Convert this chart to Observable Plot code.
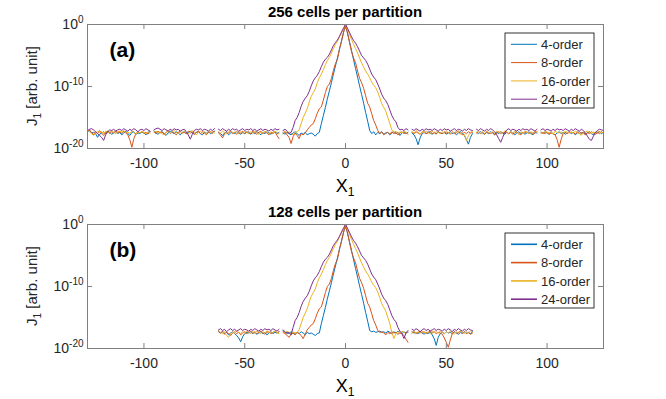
<!DOCTYPE html>
<html><head><meta charset="utf-8">
<script src="https://cdn.jsdelivr.net/npm/d3@7"></script>
<script src="https://cdn.jsdelivr.net/npm/@observablehq/plot@0.6"></script>
<style>
body{margin:0;background:#fff;width:666px;height:399px;overflow:hidden}
svg{display:block}
</style></head><body><div id="chart"></div>
<script>
// ---------- data (log10 of J1; null = gap) ----------
const seriesNames = ["4-order", "8-order", "16-order", "24-order"];
const seriesColors = ["#0072BD", "#D95319", "#EDB120", "#7E2F8E"];
const xTicks = [-100, -50, 0, 50, 100];
const yTickExponents = [0, -10, -20];
const titles = ["256 cells per partition", "128 cells per partition"];
const panelLabels = ["(a)", "(b)"];

const topStartX = -128; // x = -128 ... 128
const top4 = [
-17.3,-17.1,-17.5,-17.4,-17.6,-18.2,-17.7,-17.5,-17.3,-17.6,-17.2,-17.4,-17.7,-17.5,-17.3,-17.6,
-17.4,-17.8,-17.5,-17.2,-17.6,-17.9,-17.4,-17.3,-17.7,-17.5,-17.6,-17.3,-17.5,-17.8,-17.4,-17.3,
null,-17.2,-17.5,-17.7,-17.4,-17.3,-17.6,-17.9,-17.5,-17.2,-17.4,-17.6,-17.3,-17.5,-17.8,-17.4,
-17.3,-17.6,-17.4,-17.2,-17.5,-17.7,-17.4,-17.3,-17.6,-17.8,-17.4,-17.5,-17.3,-17.6,-17.4,-17.2,
null,-17.4,-17.6,-17.9,-17.5,-17.3,-17.8,-17.5,-17.4,-17.6,-17.3,-17.5,-17.7,-17.4,-17.6,-17.3,
-17.5,-17.7,-17.4,-17.6,-17.3,-17.5,-17.8,-17.4,-17.6,-17.3,-17.5,-17.7,-17.4,-17.2,-17.6,-17.4,
null,-17.5,-17.7,-17.4,-17.6,-17.8,-17.5,-17.3,-17.6,-17.9,-17.5,-17.7,-17.4,-17.8,-17.6,-17.5,
-17.7,-18.0,-17.6,-17.4,-16.0,-14.7,-13.4,-12.0,-10.7,-9.4,-8.0,-6.7,-5.4,-4.0,-2.7,-1.3,
0,-1.4,-2.8,-4.2,-5.7,-7.1,-8.5,-9.9,-11.3,-12.7,-14.2,-15.6,-17.1,-17.6,-17.3,-17.8,
-17.4,-17.6,-17.3,-17.7,-17.5,-17.4,-17.8,-17.5,-17.3,-17.6,-17.4,-17.9,-17.5,-17.3,-17.6,-17.4,
null,-17.5,-17.8,-18.4,-19.4,-18.3,-17.6,-17.4,-17.6,-17.3,-17.5,-17.7,-17.4,-17.6,-17.3,-17.5,
-17.6,-17.4,-17.7,-17.5,-17.3,-17.6,-17.4,-17.8,-17.5,-17.3,-17.6,-17.9,-18.6,-19.3,-18.2,-17.6,
null,-17.4,-17.6,-17.3,-17.5,-17.7,-17.4,-17.6,-17.3,-17.5,-17.8,-17.4,-17.6,-17.3,-17.5,-17.7,
-17.4,-17.6,-17.3,-17.5,-17.8,-17.5,-17.3,-17.6,-17.4,-17.7,-17.5,-17.3,-17.6,-17.8,-17.4,-17.5,
null,-17.4,-17.6,-17.3,-17.5,-17.7,-17.4,-17.6,-17.8,-17.5,-17.3,-17.6,-17.4,-17.7,-17.5,-17.3,
-17.6,-17.4,-17.8,-17.5,-17.3,-17.6,-17.4,-17.7,-17.5,-17.3,-17.6,-17.8,-17.4,-17.5,-17.3,-17.6,
-17.4];
const top8 = [
-17.2,-17.0,-17.4,-17.8,-17.3,-17.6,-17.1,-17.5,-17.9,-17.4,-17.2,-17.6,-17.3,-17.5,-17.1,-17.4,
-17.3,-17.6,-17.2,-17.5,-17.8,-18.6,-19.8,-18.4,-17.6,-17.3,-17.5,-17.2,-17.6,-17.4,-17.7,-17.3,
null,-17.3,-17.6,-17.2,-17.5,-17.3,-17.7,-17.4,-17.1,-17.6,-17.3,-17.5,-17.8,-17.4,-17.2,-17.5,
-17.4,-17.6,-17.2,-17.5,-17.3,-17.7,-17.4,-17.2,-17.6,-17.3,-17.5,-17.8,-17.4,-17.3,-17.6,-17.2,
null,-17.5,-17.8,-18.3,-17.6,-17.3,-17.5,-17.2,-17.6,-17.4,-17.7,-17.3,-17.5,-17.2,-17.6,-17.4,
-17.3,-17.6,-17.2,-17.5,-17.7,-17.4,-17.2,-17.6,-17.3,-17.5,-17.8,-17.4,-17.6,-17.3,-17.9,-18.4,
null,-17.6,-17.3,-17.8,-18.2,-19.2,-18.1,-17.5,-17.9,-18.4,-17.6,-17.8,-17.5,-17.0,-16.6,-16.2,
-16.0,-15.2,-14.3,-13.6,-13.3,-12.2,-11.0,-10.0,-9.6,-8.7,-7.4,-6.3,-5.6,-4.0,-2.7,-1.3,
0,-1.4,-2.9,-4.4,-5.4,-6.2,-7.5,-8.7,-9.4,-10.3,-11.5,-12.7,-13.3,-14.4,-15.5,-16.2,
-17.1,-17.6,-17.3,-17.8,-17.5,-17.4,-17.7,-17.3,-17.6,-17.4,-17.8,-17.5,-17.3,-17.6,-17.4,-17.7,
null,-17.4,-17.6,-17.3,-17.5,-17.7,-17.4,-17.3,-17.6,-17.5,-17.2,-17.6,-17.4,-17.7,-17.3,-17.5,
-17.6,-17.3,-17.5,-17.4,-17.7,-17.3,-17.6,-17.4,-17.2,-17.5,-17.8,-17.4,-17.6,-17.3,-17.5,-17.4,
null,-17.5,-17.3,-17.6,-17.4,-17.7,-17.3,-17.5,-17.6,-17.4,-17.8,-17.5,-17.3,-17.6,-17.4,-17.5,
-17.3,-17.6,-17.4,-17.7,-17.5,-17.3,-17.6,-17.8,-17.4,-17.5,-17.3,-17.6,-17.4,-17.7,-17.5,-17.3,
null,-17.5,-17.4,-17.6,-17.3,-17.7,-17.5,-17.6,-17.8,-18.6,-19.8,-18.5,-17.6,-17.4,-17.6,-17.3,
-17.5,-17.4,-17.7,-17.3,-17.6,-17.4,-17.5,-17.8,-17.4,-17.6,-17.3,-17.5,-17.7,-17.4,-17.6,-17.3,
-17.5];
const top16 = [
-17.0,-17.3,-17.6,-17.9,-17.5,-17.2,-17.4,-17.3,-17.6,-17.2,-17.5,-17.3,-17.1,-17.4,-17.6,-17.3,
-17.2,-17.4,-17.1,-17.5,-17.3,-17.6,-17.2,-17.4,-17.7,-17.3,-17.5,-17.2,-17.4,-17.6,-17.3,-17.5,
null,-17.4,-17.2,-17.5,-17.3,-17.6,-17.8,-17.4,-17.2,-17.5,-17.3,-17.1,-17.4,-17.6,-17.3,-17.5,
-17.2,-17.4,-17.6,-17.3,-17.1,-17.5,-17.8,-17.4,-17.2,-17.5,-17.3,-17.6,-17.2,-17.4,-17.3,-17.5,
null,-17.3,-17.5,-17.2,-17.4,-17.6,-17.3,-17.1,-17.5,-17.4,-17.2,-17.6,-17.3,-17.5,-17.2,-17.4,
-17.6,-17.3,-17.5,-17.2,-17.4,-17.7,-17.3,-17.5,-17.2,-17.4,-17.6,-17.3,-17.5,-17.2,-17.4,-17.6,
null,-17.4,-17.2,-17.6,-17.3,-17.5,-17.8,-17.4,-17.3,-17.0,-16.0,-15.0,-14.3,-13.6,-12.5,-11.6,
-11.0,-10.4,-9.4,-8.6,-8.0,-7.3,-6.5,-5.8,-5.3,-4.6,-3.9,-3.2,-2.7,-2.0,-1.4,-0.7,
0,-0.8,-1.6,-2.4,-3.2,-3.9,-4.6,-5.4,-6.2,-6.9,-7.5,-8.0,-8.6,-9.3,-9.8,-10.2,
-10.9,-11.8,-12.8,-13.4,-14.0,-15.0,-16.0,-17.0,-17.4,-17.2,-17.6,-17.3,-17.5,-17.2,-17.4,-17.6,
null,-17.3,-17.5,-17.1,-17.4,-17.7,-17.3,-17.5,-17.2,-17.4,-17.6,-17.2,-17.5,-17.3,-17.4,-17.6,
-17.3,-17.5,-17.2,-17.4,-17.6,-17.3,-17.5,-17.2,-17.4,-17.7,-17.3,-17.8,-18.7,-17.9,-17.4,-17.2,
null,-17.4,-17.2,-17.5,-17.3,-17.6,-17.2,-17.4,-17.5,-17.3,-17.6,-17.2,-17.4,-17.3,-17.5,-17.2,
-17.4,-17.6,-17.3,-17.5,-17.2,-17.4,-17.7,-17.3,-17.5,-17.2,-17.4,-17.6,-17.3,-17.5,-17.2,-17.4,
null,-17.3,-17.6,-17.2,-17.4,-17.5,-17.3,-17.7,-17.2,-17.4,-17.5,-17.3,-17.6,-17.2,-17.4,-17.5,
-17.3,-17.5,-17.2,-17.4,-17.6,-17.9,-17.5,-17.3,-17.2,-17.4,-17.6,-17.3,-17.5,-17.2,-17.4,-17.3,
-17.5];
const top24 = [
-17.1,-16.9,-16.8,-17.0,-17.3,-17.6,-17.9,-18.2,-18.7,-17.8,-17.3,-17.0,-17.1,-16.9,-17.2,-17.0,
-16.9,-17.1,-16.8,-17.0,-17.2,-16.9,-17.1,-16.8,-17.0,-17.3,-17.0,-16.9,-17.1,-16.8,-17.0,-17.2,
null,-17.0,-16.8,-16.7,-16.9,-17.1,-16.8,-17.0,-17.2,-16.9,-17.1,-16.8,-17.0,-16.9,-17.2,-17.0,
-16.9,-17.3,-17.8,-18.5,-17.7,-17.1,-16.9,-17.0,-16.8,-17.1,-16.9,-17.0,-17.2,-16.9,-17.1,-16.8,
null,-16.9,-17.1,-16.8,-17.0,-17.2,-16.9,-17.1,-16.8,-17.0,-16.9,-17.2,-17.0,-16.8,-17.1,-16.9,
-17.0,-16.8,-17.1,-16.9,-17.2,-17.0,-16.8,-17.1,-16.9,-17.0,-17.2,-16.9,-17.1,-16.8,-17.0,-16.9,
null,-17.1,-16.9,-17.2,-17.6,-17.4,-16.6,-15.5,-15.0,-14.2,-13.2,-12.4,-11.9,-11.5,-10.8,-9.9,
-9.1,-8.6,-8.2,-7.6,-6.8,-6.1,-5.6,-5.3,-4.8,-4.1,-3.4,-2.9,-2.5,-1.9,-1.2,-0.6,
0,-0.6,-1.3,-2.0,-2.6,-3.0,-3.6,-4.3,-5.0,-5.4,-5.8,-6.4,-7.2,-8.0,-8.5,-8.9,
-9.6,-10.4,-11.3,-11.9,-12.3,-12.9,-13.8,-14.7,-15.3,-15.7,-16.6,-17.0,-16.9,-17.1,-16.8,-17.0,
null,-16.9,-17.1,-16.8,-17.0,-17.2,-16.9,-17.1,-16.8,-17.0,-16.9,-17.1,-16.8,-17.0,-17.2,-16.9,
-17.1,-16.8,-17.0,-16.9,-17.2,-17.0,-16.8,-17.1,-16.9,-17.0,-17.2,-16.9,-17.1,-16.8,-17.0,-17.1,
null,-16.9,-17.1,-16.8,-17.0,-17.2,-16.9,-17.1,-16.8,-17.0,-17.3,-17.8,-18.4,-19.0,-18.2,-17.4,
-17.0,-16.8,-17.1,-16.9,-17.0,-17.2,-16.9,-17.1,-16.8,-17.0,-16.9,-17.1,-16.8,-17.0,-17.2,-16.9,
null,-17.0,-16.8,-17.1,-16.9,-17.0,-17.2,-16.9,-17.1,-16.8,-17.0,-16.9,-17.1,-16.8,-17.0,-17.2,
-16.9,-17.1,-16.8,-17.0,-17.2,-16.9,-17.1,-17.5,-18.0,-18.5,-18.7,-18.0,-17.4,-17.1,-16.9,-17.0,
-17.1];

const botStartX = -63; // x = -63 ... 63
const bot4 = [
-17.3,-17.5,-17.2,-17.6,-17.4,-17.8,-17.5,-17.3,-17.6,-17.9,-18.3,-18.9,-18.1,-17.6,-17.4,
-17.5,-17.3,-17.6,-17.4,-17.7,-17.5,-17.3,-17.6,-17.4,-17.8,-17.5,-17.3,-17.6,-17.4,-17.5,-17.3,
null,-17.2,-17.5,-17.4,-17.6,-17.3,-17.5,-17.7,-17.4,-17.6,-17.3,-17.5,-17.8,-17.4,-17.6,-17.5,
-17.7,-17.9,-17.6,-17.5,-16.0,-14.7,-13.4,-12.0,-10.7,-9.4,-8.0,-6.7,-5.4,-4.0,-2.7,-1.3,
0,-1.4,-2.8,-4.2,-5.7,-7.1,-8.5,-9.9,-11.3,-12.7,-14.2,-15.6,-17.1,-17.3,-17.2,-17.4,
-17.3,-17.2,-17.4,-17.3,-17.5,-17.2,-17.4,-17.6,-17.3,-17.5,-17.2,-17.4,-17.6,-17.3,-17.5,-17.4,
null,-17.3,-17.5,-17.4,-17.6,-17.3,-17.5,-17.7,-17.4,-17.6,-17.3,-17.8,-18.4,-19.5,-18.2,-17.6,
-17.4,-17.6,-17.3,-17.5,-17.4,-17.6,-17.3,-17.5,-17.7,-17.4,-17.6,-17.3,-17.5,-17.4,-17.6,-17.3];
const bot8 = [
-17.2,-17.5,-17.3,-17.7,-17.4,-17.6,-17.9,-17.5,-17.3,-17.6,-17.4,-17.8,-17.5,-17.3,-17.6,
-17.4,-17.2,-17.5,-17.3,-17.6,-17.4,-17.2,-17.5,-17.7,-17.4,-17.3,-17.6,-17.4,-17.2,-17.5,-17.3,
null,-17.4,-17.6,-17.9,-18.2,-17.7,-17.5,-17.8,-17.4,-17.6,-17.9,-18.4,-17.7,-17.0,-16.6,-16.2,
-16.0,-15.2,-14.3,-13.6,-13.3,-12.2,-11.0,-10.0,-9.6,-8.7,-7.4,-6.3,-5.6,-4.0,-2.7,-1.3,
0,-1.4,-2.9,-4.4,-5.4,-6.2,-7.5,-8.7,-9.4,-10.3,-11.5,-12.7,-13.3,-14.4,-15.5,-16.2,
-17.1,-17.4,-17.3,-17.5,-17.8,-17.4,-17.6,-17.3,-17.5,-17.4,-17.7,-17.5,-17.6,-17.9,-18.5,-19.0,
null,-17.5,-17.3,-17.6,-17.4,-17.2,-17.5,-17.3,-17.6,-17.4,-17.2,-17.5,-17.3,-17.6,-17.4,-17.5,
-17.7,-18.3,-19.0,-19.8,-18.6,-17.6,-17.3,-17.5,-17.4,-17.2,-17.5,-17.3,-17.6,-17.4,-17.7,-17.5];
const bot16 = [
-17.1,-17.4,-17.6,-17.3,-17.9,-18.2,-17.6,-17.3,-17.5,-17.2,-17.4,-17.6,-17.3,-17.5,-17.2,
-17.4,-17.6,-17.3,-17.5,-17.2,-17.4,-17.6,-17.3,-17.5,-17.2,-17.4,-17.3,-17.5,-17.2,-17.4,-17.6,
null,-17.3,-17.5,-17.2,-17.4,-17.6,-17.3,-17.5,-17.4,-17.0,-16.0,-15.0,-14.3,-13.6,-12.5,-11.6,
-11.0,-10.4,-9.4,-8.6,-8.0,-7.3,-6.5,-5.8,-5.3,-4.6,-3.9,-3.2,-2.7,-2.0,-1.4,-0.7,
0,-0.8,-1.6,-2.4,-3.2,-3.9,-4.6,-5.4,-6.2,-6.9,-7.5,-8.0,-8.6,-9.3,-9.8,-10.2,
-10.9,-11.8,-12.8,-13.4,-14.0,-15.0,-16.0,-17.4,-18.4,-17.6,-17.3,-17.5,-17.2,-17.4,-17.6,-17.3,
null,-17.4,-17.2,-17.5,-17.3,-17.6,-17.2,-17.4,-17.5,-17.3,-17.6,-17.2,-17.4,-17.3,-17.5,-17.2,
-17.4,-17.6,-17.3,-17.5,-17.2,-17.4,-17.7,-17.3,-17.5,-17.2,-17.4,-17.6,-17.3,-17.5,-17.2,-17.4];
const bot24 = [
-17.0,-16.8,-17.1,-16.9,-17.3,-17.0,-16.8,-17.1,-16.9,-17.2,-17.0,-16.8,-17.1,-16.9,-17.0,
-17.2,-16.9,-17.1,-16.8,-17.0,-17.2,-16.9,-17.1,-16.8,-17.0,-16.9,-17.1,-16.8,-17.0,-17.2,-16.9,
null,-17.0,-17.3,-17.6,-17.4,-17.8,-16.6,-15.5,-15.0,-14.2,-13.2,-12.4,-11.9,-11.5,-10.8,-9.9,
-9.1,-8.6,-8.2,-7.6,-6.8,-6.1,-5.6,-5.3,-4.8,-4.1,-3.4,-2.9,-2.5,-1.9,-1.2,-0.6,
0,-0.6,-1.3,-2.0,-2.6,-3.0,-3.6,-4.3,-5.0,-5.4,-5.8,-6.4,-7.2,-8.0,-8.5,-8.9,
-9.6,-10.4,-11.3,-11.9,-12.3,-12.9,-13.8,-14.7,-15.3,-15.7,-16.6,-17.2,-17.6,-18.4,-17.5,-17.1,
null,-16.9,-17.1,-16.8,-17.0,-17.3,-17.0,-16.8,-17.1,-16.9,-17.2,-17.0,-16.8,-17.1,-16.9,-17.0,
-17.2,-16.9,-17.1,-16.8,-17.0,-17.3,-16.9,-17.1,-16.8,-17.0,-17.2,-16.9,-17.1,-16.8,-17.0,-17.1];

// ---------- drawing ----------
const FONT = "'Liberation Sans', Arial, Helvetica, sans-serif";
const AXIS = "#808080";
const TEXT = "#262626";

function rowsFrom(x0, arrays) {
  return seriesNames.flatMap((name, k) =>
    arrays[k].map((e, i) => ({x: x0 + i, y: e === null ? NaN : Math.pow(10, e), s: name})));
}

function makePanel(rows, height, marginBottom, idx, legendWidth) {
  const mt = 24, ml = 87, mr = 63;
  const fw = 666 - ml - mr, fh = height - mt - marginBottom;
  const svg = Plot.plot({
    width: 666, height,
    marginTop: mt, marginBottom, marginLeft: ml, marginRight: mr,
    style: {fontFamily: FONT, background: "white", color: TEXT, overflow: "visible"},
    x: {domain: [-128, 128]},
    y: {type: "log", domain: [1e-20, 1]},
    color: {domain: seriesNames, range: seriesColors},
    marks: [
      Plot.line(rows, {x: "x", y: "y", z: "s", stroke: "s", strokeWidth: 1}),
      Plot.frame({stroke: AXIS, strokeWidth: 1}),
      Plot.tickX(xTicks, {x: d => d, insetTop: fh - 5, stroke: AXIS}),
      Plot.tickX(xTicks, {x: d => d, insetBottom: fh - 5, stroke: AXIS}),
      Plot.tickY(yTickExponents, {y: d => Math.pow(10, d), insetRight: fw - 5, stroke: AXIS}),
      Plot.tickY(yTickExponents, {y: d => Math.pow(10, d), insetLeft: fw - 5, stroke: AXIS}),
      Plot.axisX({ticks: xTicks, tickSize: 0, tickPadding: 10, fontSize: 14, label: null,
                  color: TEXT, tickFormat: d => String(d)}),
      Plot.axisY({ticks: yTickExponents.map(e => Math.pow(10, e)), tickSize: 0, tickPadding: 4,
                  fontSize: 14, label: null, color: TEXT,
                  tickFormat: d => "10^" + Math.round(Math.log10(d))}),
      Plot.text([panelLabels[idx]], {text: d => d, frameAnchor: "top-left", dx: 22, dy: 32,
                  textAnchor: "start", lineAnchor: "bottom", fontSize: 21, fontWeight: "bold", fill: "black"})
    ]
  });
  const s = d3.select(svg);
  // superscript exponents on y tick labels
  s.selectAll('g[aria-label="y-axis tick label"] text').each(function () {
    const t = d3.select(this);
    const [base, exp] = t.text().split("^");
    t.text(null);
    t.append("tspan").text(base);
    t.append("tspan").attr("dy", "-0.55em").attr("font-size", "10px").text(exp);
  });
  // title
  s.append("text").attr("x", ml + fw / 2).attr("y", 17).attr("text-anchor", "middle")
    .attr("font-family", FONT).attr("font-size", 15).attr("font-weight", "bold")
    .attr("fill", "black").text(titles[idx]);
  // x label X_1
  const xl = s.append("text").attr("x", ml + fw / 2).attr("y", mt + fh + 44)
    .attr("text-anchor", "middle").attr("font-family", FONT).attr("font-size", 18).attr("fill", "black");
  xl.append("tspan").text("X");
  xl.append("tspan").attr("dy", 4).attr("font-size", 12).text("1");
  // y label J_1 [arb. unit]
  const yl = s.append("text").attr("transform", `translate(37,${mt + fh / 2}) rotate(-90)`)
    .attr("text-anchor", "middle").attr("font-family", FONT).attr("font-size", 15).attr("fill", TEXT);
  yl.append("tspan").text("J");
  yl.append("tspan").attr("dy", 4).attr("font-size", 10).text("1");
  yl.append("tspan").attr("dy", -4).text(" [arb. unit]");
  // legend
  const g = s.append("g").attr("transform", `translate(505,${mt + 9})`).attr("text-anchor", "start");
  g.append("rect").attr("x", 0).attr("y", 0).attr("width", 89).attr("height", 75)
    .attr("fill", "white").attr("stroke", "black").attr("stroke-width", 0.8);
  seriesNames.forEach((name, k) => {
    const cy = 11.3 + k * 18.3;
    g.append("line").attr("x1", 6).attr("x2", 32).attr("y1", cy).attr("y2", cy)
      .attr("stroke", seriesColors[k]).attr("stroke-width", legendWidth);
    g.append("text").attr("x", 36).attr("y", cy + 4.6).attr("text-anchor", "start")
      .attr("font-family", FONT).attr("font-size", 13).attr("fill", TEXT).text(name);
  });
  return svg;
}

const host = document.getElementById("chart");
host.appendChild(makePanel(rowsFrom(topStartX, [top4, top8, top16, top24]), 200, 52, 0, 1));
host.appendChild(makePanel(rowsFrom(botStartX, [bot4, bot8, bot16, bot24]), 199, 51, 1, 1.6));
</script></body></html>
